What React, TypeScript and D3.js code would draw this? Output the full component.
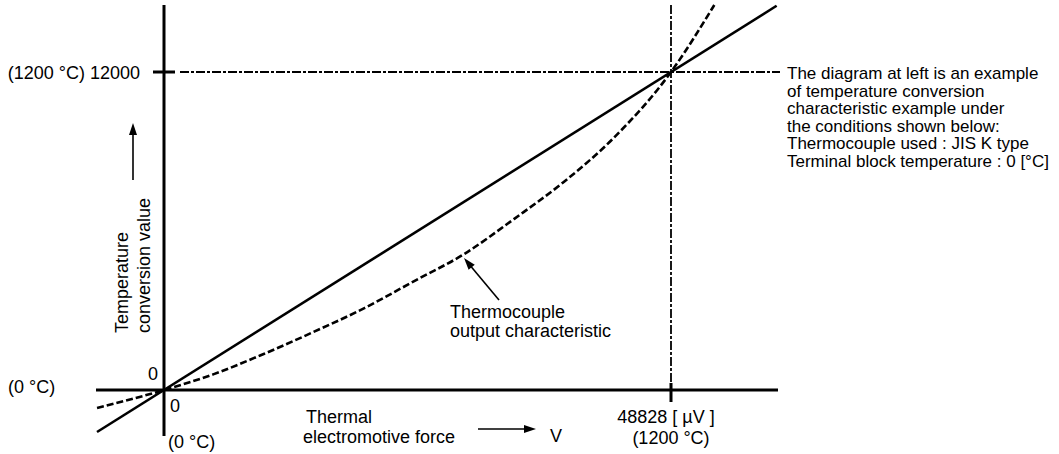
import React from "react";
import * as d3 from "d3";

// readings taken off the diagram: [emf µV, conversion value]
const thermoCurve: [number, number][] = [
  [-6450, -680],
  [0, 0],
  [4800, 600],
  [9600, 1360],
  [14400, 2190],
  [19300, 3090],
  [24100, 4110],
  [28900, 5130],
  [33700, 6450],
  [38500, 7850],
  [43300, 9510],
  [48828, 12000],
  [53000, 14530],
];
const linearLine: [number, number][] = [
  [-6450, -1585],
  [59000, 14500],
];
const xMax = 48828;
const yMax = 12000;
const noteLines = [
  "The diagram at left is an example",
  "of temperature conversion",
  "characteristic example under",
  "the conditions shown below:",
  "Thermocouple used : JIS K type",
  "Terminal block temperature : 0 [°C]",
];

const W = 1059;
const H = 454;
const font = "'Liberation Sans', Arial, sans-serif";

function arrowHead(x1: number, y1: number, x2: number, y2: number, len = 12, half = 4) {
  const a = Math.atan2(y2 - y1, x2 - x1);
  const bx = x2 - len * Math.cos(a);
  const by = y2 - len * Math.sin(a);
  const px = -Math.sin(a) * half;
  const py = Math.cos(a) * half;
  return `M${x2},${y2}L${bx + px},${by + py}L${bx - px},${by - py}Z`;
}

function Arrow({ x1, y1, x2, y2 }: { x1: number; y1: number; x2: number; y2: number }) {
  const a = Math.atan2(y2 - y1, x2 - x1);
  return (
    <g>
      <line x1={x1} y1={y1} x2={x2 - 8 * Math.cos(a)} y2={y2 - 8 * Math.sin(a)} stroke="#000" strokeWidth={1.6} />
      <path d={arrowHead(x1, y1, x2, y2)} fill="#000" />
    </g>
  );
}

export default function App() {
  const x = d3.scaleLinear().domain([0, xMax]).range([164, 671]);
  const y = d3.scaleLinear().domain([0, yMax]).range([390, 72]);

  const line = d3
    .line<[number, number]>()
    .x(d => x(d[0]))
    .y(d => y(d[1]));
  const curve = d3
    .line<[number, number]>()
    .x(d => x(d[0]))
    .y(d => y(d[1]))
    .curve(d3.curveMonotoneX);

  const x0 = x(0);
  const y0 = y(0);
  const xr = x(xMax);
  const yr = y(yMax);

  return (
    <svg width={W} height={H} style={{ position: "absolute", left: 0, top: 0, background: "#fff" }} fontFamily={font} fontSize={18}>
      {/* reference lines */}
      <line x1={180} y1={yr} x2={780} y2={yr} stroke="#000" strokeWidth={1.8} strokeDasharray="9 2 3 2" />
      <line x1={xr} y1={5} x2={xr} y2={383} stroke="#000" strokeWidth={1.8} strokeDasharray="9 2 3 2" />

      {/* axes */}
      <line x1={x0} y1={5} x2={x0} y2={436} stroke="#000" strokeWidth={3} />
      <line x1={96} y1={y0} x2={778} y2={y0} stroke="#000" strokeWidth={3} />
      <line x1={153} y1={yr} x2={175} y2={yr} stroke="#000" strokeWidth={3} />
      <line x1={xr} y1={383} x2={xr} y2={402} stroke="#000" strokeWidth={3} />

      {/* characteristics */}
      <path d={line(linearLine) || ""} fill="none" stroke="#000" strokeWidth={2.6} />
      <path d={curve(thermoCurve) || ""} fill="none" stroke="#000" strokeWidth={2.6} strokeDasharray="7 3" />

      {/* y labels */}
      <text x={140} y={79} textAnchor="end">(1200 °C) 12000</text>
      <text x={158} y={380} textAnchor="end">0</text>
      <text x={8} y={393}>(0 °C)</text>
      <Arrow x1={133} y1={180} x2={133} y2={123} />
      <g transform="translate(0,333) rotate(-90)">
        <text x={0} y={128}>Temperature</text>
        <text x={0} y={150}>conversion value</text>
      </g>

      {/* x labels */}
      <text x={170} y={412}>0</text>
      <text x={168} y={448}>(0 °C)</text>
      <text x={306} y={423}>Thermal</text>
      <text x={303} y={443}>electromotive force</text>
      <Arrow x1={478} y1={429} x2={536} y2={429} />
      <text x={550} y={442}>V</text>
      <text x={666} y={423} textAnchor="middle">48828 [ µV ]</text>
      <text x={671} y={444} textAnchor="middle">(1200 °C)</text>

      {/* curve annotation */}
      <Arrow x1={499} y1={300} x2={464} y2={258} />
      <text x={450} y={318}>Thermocouple</text>
      <text x={450} y={337}>output characteristic</text>

      {/* note */}
      <g fontSize={17}>
        {noteLines.map((t, i) => (
          <text key={i} x={787} y={79 + i * 17.5}>
            {t}
          </text>
        ))}
      </g>
    </svg>
  );
}
